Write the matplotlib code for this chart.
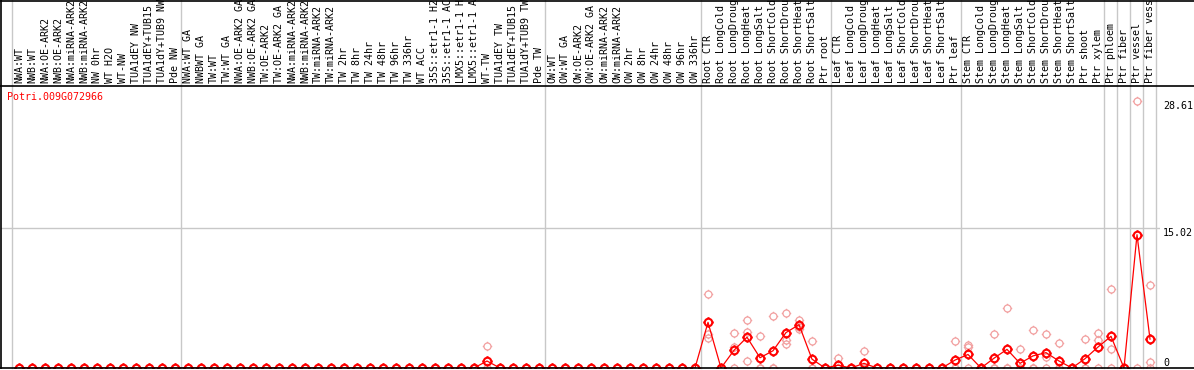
import numpy as np
import matplotlib
matplotlib.use("Agg")
import matplotlib.pyplot as plt
from matplotlib.path import Path
from matplotlib.lines import Line2D

gene = "Potri.009G072966"

samples = [
    "NWA:WT", "NWB:WT", "NWA:OE-ARK2", "NWB:OE-ARK2", "NWA:miRNA-ARK2", "NWB:miRNA-ARK2",
    "NW 0hr", "WT H2O", "WT-NW", "TUA1dEY NW", "TUA1dEY+TUB15 NW", "TUA1dY+TUB9 NW", "Pde NW",
    "NWA:WT GA", "NWBWT GA", "TW:WT", "TW:WT GA", "NWA:OE-ARK2 GA", "NWB:OE-ARK2 GA",
    "TW:OE-ARK2", "TW:OE-ARK2 GA", "NWA:miRNA-ARK2", "NWB:miRNA-ARK2", "TW:miRNA-ARK2",
    "TW:miRNA-ARK2", "TW 2hr", "TW 8hr", "TW 24hr", "TW 48hr", "TW 96hr", "TW 336hr",
    "WT ACC", "35S::etr1-1 H2O", "35S::etr1-1 ACC", "LMX5::etr1-1 H2O", "LMX5::etr1-1 ACC",
    "WT-TW", "TUA1dEY TW", "TUA1dEY+TUB15 TW", "TUA1dY+TUB9 TW", "Pde TW",
    "OW:WT", "OW:WT GA", "OW:OE-ARK2", "OW:OE-ARK2 GA", "OW:miRNA-ARK2", "OW:miRNA-ARK2",
    "OW 2hr", "OW 8hr", "OW 24hr", "OW 48hr", "OW 96hr", "OW 336hr",
    "Root CTR", "Root LongCold", "Root LongDrought", "Root LongHeat", "Root LongSalt",
    "Root ShortCold", "Root ShortDrought", "Root ShortHeat", "Root ShortSalt", "Ptr root",
    "Leaf CTR", "Leaf LongCold", "Leaf LongDrought", "Leaf LongHeat", "Leaf LongSalt",
    "Leaf ShortCold", "Leaf ShortDrought", "Leaf ShortHeat", "Leaf ShortSalt", "Ptr leaf",
    "Stem CTR", "Stem LongCold", "Stem LongDrought", "Stem LongHeat", "Stem LongSalt",
    "Stem ShortCold", "Stem ShortDrought", "Stem ShortHeat", "Stem ShortSalt", "Ptr shoot",
    "Ptr xylem", "Ptr phloem", "Ptr fiber", "Ptr vessel", "Ptr fiber vessel",
]

# mean expression per sample
mean_vals = [0.0] * 36 + [0.75] + [0.0] * 16 + [
    4.9, 0.0, 1.9, 3.3, 1.1, 1.85, 3.8, 4.65, 0.95, 0.0,
    0.3, 0.0, 0.5, 0.0, 0.0, 0.0, 0.0, 0.0, 0.0, 0.85,
    1.45, 0.0, 1.05, 2.0, 0.5, 1.3, 1.65, 0.75, 0.0, 1.0,
    2.25, 3.4, 0.0, 14.3, 3.1]

# replicates
rep_a = [0.0] * 36 + [2.4] + [0.0] * 16 + [
    7.9, 0.0, 3.8, 5.2, 3.4, 5.6, 5.85, 5.1, 2.9, 0.0,
    1.1, 0.0, 1.8, 0.0, 0.0, 0.0, 0.0, 0.0, 0.0, 2.9,
    2.45, 0.0, 3.6, 6.45, 2.0, 4.1, 3.6, 2.7, 0.0, 3.15,
    3.75, 8.5, 0.0, 28.61, 8.9]
rep_b = [0.0] * 53 + [
    3.6, 0.0, 2.2, 3.9, 0.0, 0.0, 3.05, 4.45, 0.0, 0.0,
    0.0, 0.0, 0.0, 0.0, 0.0, 0.0, 0.0, 0.0, 0.0, 0.0,
    2.25, 0.0, 0.0, 0.0, 0.0, 0.0, 1.2, 0.0, 0.0, 0.0,
    3.05, 2.0, 0.0, 0.0, 0.6]
rep_c = [0.0] * 53 + [
    3.2, 0.0, 0.0, 0.75, 0.0, 0.0, 2.6, 4.2, 0.0, 0.0,
    0.0, 0.0, 0.0, 0.0, 0.0, 0.0, 0.0, 0.0, 0.0, 0.0,
    0.0, 0.0, 0.0, 0.0, 0.0, 0.0, 0.0, 0.0, 0.0, 0.0,
    0.0, 0.0, 0.0, np.nan, 0.0]

group_ends = [-1, 12, 40, 52, 62, 72, 83, 84, 85, 86, 87]
axis_marks = [28.61, 15.02, 0]

red = "#ff0000"
pink = "#f2a0a0"
grey = "#c8c8c8"
mono = "DejaVu Sans Mono"
fs = 7.2

# circle marker with little ticks sticking out
parts = [Path.unit_circle()]
for dx, dy in [(0, 1), (0, -1), (1, 0), (-1, 0)]:
    parts.append(Path([(dx, dy), (dx * 1.35, dy * 1.35)], [Path.MOVETO, Path.LINETO]))
ring = Path.make_compound_path(*parts)

W, H = 1194, 370
fig = plt.figure(figsize=(W / 100, H / 100), dpi=100)
ax_left, ax_right, ax_top, ax_bot = 1, 1160, 86, 368
ax = fig.add_axes([ax_left / W, (H - ax_bot) / H, (ax_right - ax_left) / W, (ax_bot - ax_top) / H])

x = np.arange(len(samples))
ax.set_xlim((ax_left - 19) / 13, (ax_right - 19) / 13)
ax.set_ylim(0, (ax_bot - ax_top) / ((ax_bot - 228) / 15.02))

ax.axhline(15.02, color=grey, lw=1, zorder=1)
top_ext = 1 + ax_top / (ax_bot - ax_top)
for b in group_ends:
    ax.axvline(b + 0.45, ymin=0, ymax=top_ext, color=grey, lw=1, clip_on=False, zorder=1)

for rep in [rep_a, rep_b, rep_c]:
    ax.plot(x, rep, ls="none", marker=ring, ms=6.8, mec=pink, mfc="none", mew=0.9, zorder=2)
ax.plot(x, mean_vals, color=red, lw=0.9, marker=ring, ms=7.3, mec=red, mfc="none", mew=1.5, zorder=3)

ax.set_xticks(x)
ax.set_xticklabels(samples, rotation=90, fontsize=fs, family=mono)
ax.xaxis.tick_top()
ax.tick_params(axis="x", length=0, pad=2.2)
ax.set_yticks([])
for s in ax.spines.values():
    s.set_visible(False)

ax.text(6 / (ax_right - ax_left), (ax_bot - 97) / (ax_bot - ax_top), gene, transform=ax.transAxes,
        color=red, fontsize=fs, family=mono, ha="left", va="center")

ytr = ax.get_yaxis_transform()
for v in axis_marks:
    ax.text(1.0 + 3 / (ax_right - ax_left), v, f"{v}", transform=ytr, fontsize=fs, family=mono,
            ha="left", va="bottom" if v == 0 else "top", clip_on=False)

# frame lines
for (x0, y0, x1, y1) in [(0.5, 0.5, W, 0.5), (0, ax_top, W, ax_top), (0, ax_bot, W, ax_bot),
                         (ax_left, 0, ax_left, ax_bot)]:
    fig.add_artist(Line2D([x0 / W, x1 / W], [1 - y0 / H, 1 - y1 / H], color="black", lw=1.2))

fig.savefig("out.png", dpi=100)
